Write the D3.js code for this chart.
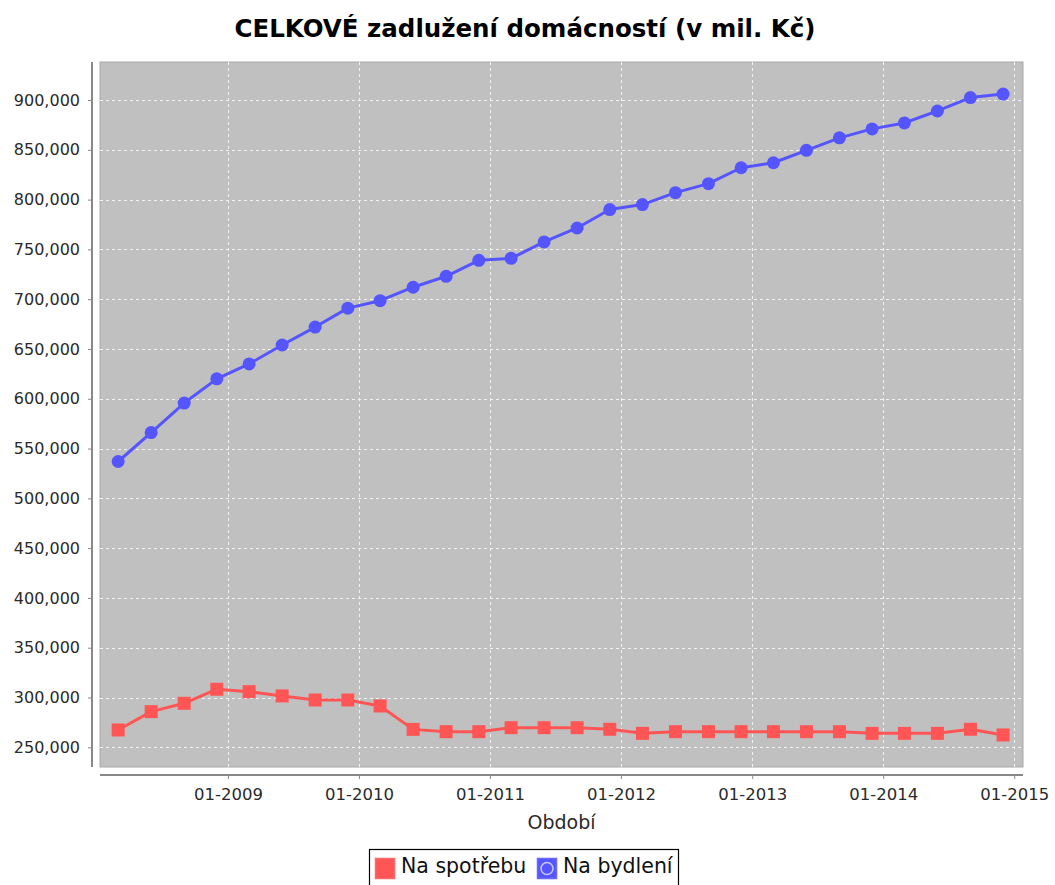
<!DOCTYPE html>
<html>
<head>
<meta charset="utf-8">
<script src="https://cdn.jsdelivr.net/npm/d3@7"></script>
<style>
  body { margin: 0; background: #fff; }
  text { font-family: "DejaVu Sans", sans-serif; }
</style>
</head>
<body>
<div id="chart"></div>
<script>
// quarterly observations, Mar 2008 .. Dec 2014
var periods = [
  "2008-03", "2008-06", "2008-09", "2008-12",
  "2009-03", "2009-06", "2009-09", "2009-12",
  "2010-03", "2010-06", "2010-09", "2010-12",
  "2011-03", "2011-06", "2011-09", "2011-12",
  "2012-03", "2012-06", "2012-09", "2012-12",
  "2013-03", "2013-06", "2013-09", "2013-12",
  "2014-03", "2014-06", "2014-09", "2014-12"
];

// Na spotřebu (consumer credit), mil. Kč
var spotreba = [
  267400, 285800, 294200, 308300, 305900, 301600, 297500, 297500,
  291500, 268000, 265700, 265700, 269700, 269700, 269700, 268100,
  264000, 265700, 265700, 265700, 265700, 265700, 265700, 264000,
  264000, 264000, 268100, 262400
];

// Na bydlení (housing loans), mil. Kč
var bydleni = [
  537000, 566000, 595700, 620000, 635000, 654000, 672000, 691000,
  698500, 712000, 723000, 739000, 741000, 757500, 771500, 790000,
  795000, 807000, 816000, 832000, 837000, 849500, 862000, 871000,
  877000, 889000, 902500, 906000
];

var yTicks = [250000, 300000, 350000, 400000, 450000, 500000, 550000,
              600000, 650000, 700000, 750000, 800000, 850000, 900000];
var xTickYears = [2009, 2010, 2011, 2012, 2013, 2014, 2015];

var seriesNames = ["Na spotřebu", "Na bydlení"];
var seriesColors = ["#ff5555", "#5555ff"];

var title = "CELKOVÉ zadlužení domácností (v mil. Kč)";
var xTitle = "Období";

var width = 1055, height = 885;
var plot = { left: 100, right: 1023, top: 62, bottom: 767 };

var parseMonth = d3.timeParse("%Y-%m");
var dates = periods.map(parseMonth);

var series = [
  { name: seriesNames[0], color: seriesColors[0], shape: "square", values: spotreba },
  { name: seriesNames[1], color: seriesColors[1], shape: "circle", values: bydleni }
];

var svg = d3.select("#chart").append("svg")
  .attr("width", width)
  .attr("height", height);

// scales (auto range with small margins, like the original)
var tExt = d3.extent(dates);
var tSpan = tExt[1] - tExt[0];
var x = d3.scaleTime()
  .domain([new Date(+tExt[0] - tSpan * 0.0205), new Date(+tExt[1] + tSpan * 0.0225)])
  .range([plot.left, plot.right]);

var allVals = spotreba.concat(bydleni);
var vExt = d3.extent(allVals);
var vSpan = vExt[1] - vExt[0];
var y = d3.scaleLinear()
  .domain([vExt[0] - vSpan * 0.05, vExt[1] + vSpan * 0.05])
  .range([plot.bottom, plot.top]);

var xTicks = xTickYears.map(function(yr) { return new Date(yr, 0, 1); });

/* title */
svg.append("text")
  .attr("x", 525)
  .attr("y", 37)
  .attr("text-anchor", "middle")
  .attr("font-size", 24.5)
  .attr("font-weight", "bold")
  .attr("fill", "#000")
  .text(title);

/* plot background */
svg.append("rect")
  .attr("x", plot.left)
  .attr("y", plot.top)
  .attr("width", plot.right - plot.left)
  .attr("height", plot.bottom - plot.top)
  .attr("fill", "#c0c0c0")
  .attr("stroke", "#a8a8a8")
  .attr("stroke-width", 1);

/* grid lines */
svg.append("g")
  .selectAll("line")
  .data(yTicks)
  .enter().append("line")
  .attr("x1", plot.left)
  .attr("x2", plot.right)
  .attr("y1", function(d) { return Math.round(y(d)) + 0.5; })
  .attr("y2", function(d) { return Math.round(y(d)) + 0.5; })
  .attr("stroke", "#f2f2f2")
  .attr("stroke-width", 1)
  .attr("stroke-dasharray", "3,3");

svg.append("g")
  .selectAll("line")
  .data(xTicks)
  .enter().append("line")
  .attr("x1", function(d) { return Math.round(x(d)) + 0.5; })
  .attr("x2", function(d) { return Math.round(x(d)) + 0.5; })
  .attr("y1", plot.top)
  .attr("y2", plot.bottom)
  .attr("stroke", "#f2f2f2")
  .attr("stroke-width", 1)
  .attr("stroke-dasharray", "3,3");

/* y axis, offset a bit to the left of the plot */
var yAxis = d3.axisLeft(y)
  .tickValues(yTicks)
  .tickFormat(d3.format(","))
  .tickSize(4)
  .tickPadding(8);

var gy = svg.append("g")
  .attr("transform", "translate(92,0)")
  .call(yAxis);
gy.select(".domain").attr("d", "M0," + plot.top + "V" + plot.bottom)
  .attr("stroke", "#888").attr("stroke-width", 2);
gy.selectAll(".tick line").attr("stroke", "#888");
gy.selectAll(".tick text")
  .attr("font-size", 16)
  .attr("font-family", "DejaVu Sans, sans-serif")
  .attr("fill", "#2a2a2a");

/* x axis, offset a bit below the plot */
var xAxis = d3.axisBottom(x)
  .tickValues(xTicks)
  .tickFormat(d3.timeFormat("%m-%Y"))
  .tickSize(4)
  .tickPadding(9);

var gx = svg.append("g")
  .attr("transform", "translate(0,775)")
  .call(xAxis);
gx.select(".domain").attr("d", "M" + plot.left + ",0H" + plot.right)
  .attr("stroke", "#888").attr("stroke-width", 2);
gx.selectAll(".tick line").attr("stroke", "#888");
gx.selectAll(".tick text")
  .attr("font-size", 16.5)
  .attr("font-family", "DejaVu Sans, sans-serif")
  .attr("fill", "#2a2a2a");

svg.append("text")
  .attr("x", (plot.left + plot.right) / 2)
  .attr("y", 829)
  .attr("text-anchor", "middle")
  .attr("font-size", 19)
  .attr("fill", "#2a2a2a")
  .text(xTitle);

/* series lines and markers */
var line = d3.line()
  .x(function(d) { return x(d.date); })
  .y(function(d) { return y(d.value); });

series.forEach(function(s) {
  var pts = s.values.map(function(v, i) { return { date: dates[i], value: v }; });

  svg.append("path")
    .datum(pts)
    .attr("fill", "none")
    .attr("stroke", s.color)
    .attr("stroke-width", 3)
    .attr("stroke-linejoin", "round")
    .attr("d", line);

  if (s.shape === "square") {
    svg.append("g").selectAll("rect")
      .data(pts)
      .enter().append("rect")
      .attr("x", function(d) { return x(d.date) - 6.5; })
      .attr("y", function(d) { return y(d.value) - 6.5; })
      .attr("width", 13)
      .attr("height", 13)
      .attr("fill", s.color);
  } else {
    svg.append("g").selectAll("circle")
      .data(pts)
      .enter().append("circle")
      .attr("cx", function(d) { return x(d.date); })
      .attr("cy", function(d) { return y(d.value); })
      .attr("r", 6.5)
      .attr("fill", s.color);
  }
});

/* legend */
svg.append("rect")
  .attr("x", 369.5)
  .attr("y", 849.5)
  .attr("width", 309)
  .attr("height", 45)
  .attr("fill", "#fff")
  .attr("stroke", "#000")
  .attr("stroke-width", 1.2);

var legendX = [375, 537];
var leg = svg.append("g").selectAll("g")
  .data(series)
  .enter().append("g")
  .attr("transform", function(d, i) { return "translate(" + legendX[i] + ",858)"; });

leg.append("rect")
  .attr("x", 0.5)
  .attr("y", 0.5)
  .attr("width", 19)
  .attr("height", 20)
  .attr("fill", function(d) { return d.color; })
  .attr("stroke", function(d) { return d3.color(d.color).brighter(0.6); })
  .attr("stroke-width", 1.5);

leg.filter(function(d) { return d.shape === "circle"; })
  .append("circle")
  .attr("cx", 10)
  .attr("cy", 10.5)
  .attr("r", 6)
  .attr("fill", function(d) { return d.color; })
  .attr("stroke", "#c8c8ff")
  .attr("stroke-width", 1.5);

leg.append("text")
  .attr("x", 26)
  .attr("y", 15)
  .attr("font-size", 20.5)
  .attr("fill", "#111")
  .text(function(d) { return d.name; });
</script>
</body>
</html>
